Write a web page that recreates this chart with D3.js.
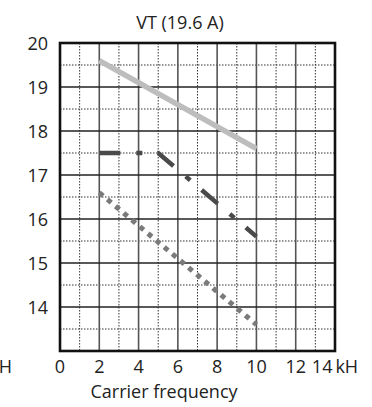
<!DOCTYPE html>
<html>
<head>
<meta charset="utf-8">
<script src="https://cdn.jsdelivr.net/npm/d3@7"></script>
<style>
  html, body { margin: 0; padding: 0; background: #fff; }
  svg { display: block; }
  text { font-family: "Open Sans", "Noto Sans", sans-serif; fill: #222; }
</style>
</head>
<body>
<svg id="chart" width="372" height="407"></svg>
<script>
// Output current vs. carrier frequency, VT drive (19.6 A)
const title = "VT (19.6 A)";
const xTitle = "Carrier frequency";
const unit = "kH";

const xTickValues = [0, 2, 4, 6, 8, 10, 12, 14];
const yTickValues = [14, 15, 16, 17, 18, 19, 20];

// light grey solid curve
const freqA = [2, 4, 6, 8, 10];
const currentA = [19.6, 19.1, 18.6, 18.1, 17.6];

// dark grey dash-dot curve
const freqB = [2, 5, 10];
const currentB = [17.5, 17.5, 15.6];

// mid grey dotted curve
const freqC = [2, 10];
const currentC = [16.6, 13.6];

const svg = d3.select("#chart");
const plotL = 60, plotR = 335, plotT = 43, plotB = 351;
const fontSize = 18;

const x = d3.scaleLinear().domain([0, 14]).range([plotL, plotR]);
const y = d3.scaleLinear().domain([13, 20]).range([plotB, plotT]);

const grid = svg.append("g");

// minor dotted grid
grid.append("g").selectAll("line")
  .data(d3.range(1, 14, 2))
  .join("line")
  .attr("x1", d => x(d)).attr("x2", d => x(d))
  .attr("y1", plotT).attr("y2", plotB)
  .attr("stroke", "#333").attr("stroke-width", 1)
  .attr("stroke-dasharray", "1.5,1.5");
grid.append("g").selectAll("line")
  .data(d3.range(13.5, 20, 1))
  .join("line")
  .attr("y1", d => y(d)).attr("y2", d => y(d))
  .attr("x1", plotL).attr("x2", plotR)
  .attr("stroke", "#333").attr("stroke-width", 1)
  .attr("stroke-dasharray", "1.5,1.5");

// major grid
grid.append("g").selectAll("line")
  .data(d3.range(2, 14, 2))
  .join("line")
  .attr("x1", d => x(d)).attr("x2", d => x(d))
  .attr("y1", plotT).attr("y2", plotB)
  .attr("stroke", "#555").attr("stroke-width", 1.6);
grid.append("g").selectAll("line")
  .data(d3.range(14, 20, 1))
  .join("line")
  .attr("y1", d => y(d)).attr("y2", d => y(d))
  .attr("x1", plotL).attr("x2", plotR)
  .attr("stroke", "#222").attr("stroke-width", 1.6);

// curves
const line = d3.line().x(d => x(d[0])).y(d => y(d[1]));

svg.append("path")
  .datum(d3.zip(freqA, currentA))
  .attr("d", line)
  .attr("fill", "none").attr("stroke", "#bdbdbd")
  .attr("stroke-width", 5.5);

svg.append("path")
  .datum(d3.zip(freqB, currentB))
  .attr("d", line)
  .attr("fill", "none").attr("stroke", "#4a4a4a")
  .attr("stroke-width", 4.5)
  .attr("stroke-linejoin", "miter")
  .attr("stroke-dasharray", "21,16,6,15");

svg.append("path")
  .datum(d3.zip(freqC, currentC))
  .attr("d", line)
  .attr("fill", "none").attr("stroke", "#7a7a7a")
  .attr("stroke-width", 5)
  .attr("stroke-dasharray", "5,5.6");

// frame
svg.append("rect")
  .attr("x", plotL).attr("y", plotT)
  .attr("width", plotR - plotL).attr("height", plotB - plotT)
  .attr("fill", "none").attr("stroke", "#111").attr("stroke-width", 2.6);

// y tick labels
svg.append("g")
  .selectAll("text")
  .data(yTickValues)
  .join("text")
  .attr("x", 48)
  .attr("y", d => y(d) + 6.5)
  .attr("text-anchor", "end")
  .attr("font-size", fontSize)
  .text(d => d);

// x tick labels (the last one carries the unit)
svg.append("g")
  .selectAll("text")
  .data(xTickValues)
  .join("text")
  .attr("x", d => x(d))
  .attr("y", 373)
  .attr("text-anchor", "middle")
  .attr("font-size", fontSize)
  .text((d, i) => i === xTickValues.length - 1 ? d + "\u2009" + unit : d);

// unit of the neighbouring panel, cut at the left edge
svg.append("text")
  .attr("x", 12).attr("y", 373)
  .attr("text-anchor", "end")
  .attr("font-size", fontSize)
  .text(unit);

// titles
svg.append("text")
  .attr("x", 180).attr("y", 29)
  .attr("text-anchor", "middle")
  .attr("font-size", fontSize)
  .text(title);

svg.append("text")
  .attr("x", 164).attr("y", 398)
  .attr("text-anchor", "middle")
  .attr("font-size", fontSize)
  .text(xTitle);
</script>
</body>
</html>
